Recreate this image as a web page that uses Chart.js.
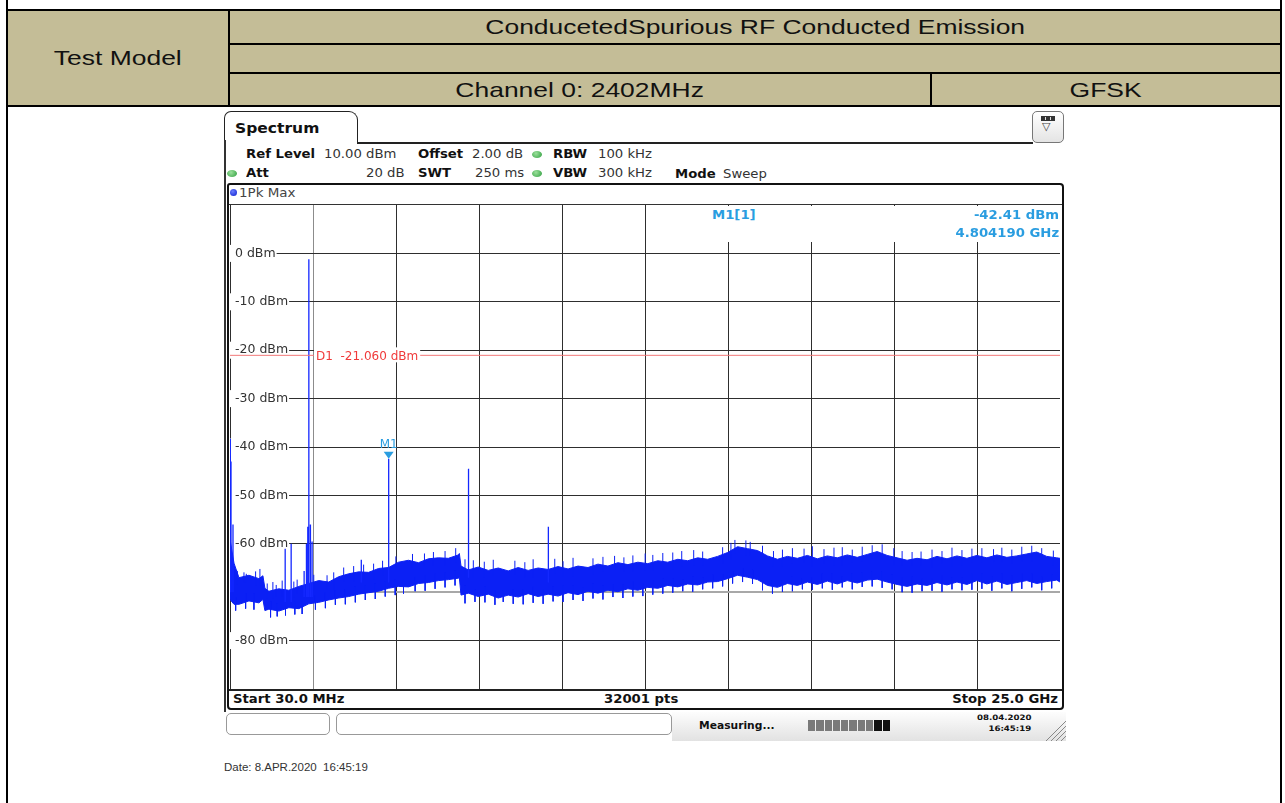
<!DOCTYPE html>
<html><head><meta charset="utf-8">
<script src="https://cdn.jsdelivr.net/npm/chart.js@4.4.1/dist/chart.umd.min.js"></script>
<style>
html,body{margin:0;padding:0;background:#fff;}
body{width:1285px;height:803px;position:relative;overflow:hidden;font-family:"DejaVu Sans",sans-serif;}
.ln{position:absolute;background:#000;}
.cell{position:absolute;background:#c4bd97;display:flex;align-items:center;justify-content:center;}
.ct{font-family:"Liberation Sans",Arial,sans-serif;font-size:21px;color:#111;display:inline-block;transform:scaleX(1.26);white-space:nowrap;}
.ra{position:absolute;font-family:"DejaVu Sans",sans-serif;font-size:11.5px;color:#333;white-space:nowrap;transform:scaleX(1.15);transform-origin:0 50%;line-height:14px;}
.rr{transform-origin:100% 50%;}
.b{font-weight:bold;color:#111;}
.blue{color:#2a9de0;font-weight:bold;}
.dot{position:absolute;width:10px;height:7px;border-radius:50%;background:radial-gradient(circle at 40% 35%,#9be09b,#2e9e3e);}
</style></head>
<body>
<!-- table -->
<div class="cell" style="left:8px;top:11px;width:220px;height:94px;"><span class="ct">Test Model</span></div>
<div class="cell" style="left:230px;top:11px;width:1050px;height:32px;"><span class="ct">ConducetedSpurious RF Conducted Emission</span></div>
<div class="cell" style="left:230px;top:45px;width:1050px;height:27px;"></div>
<div class="cell" style="left:230px;top:74px;width:700px;height:31px;"><span class="ct">Channel 0: 2402MHz</span></div>
<div class="cell" style="left:932px;top:74px;width:348px;height:31px;"><span class="ct">GFSK</span></div>
<div class="ln" style="left:6px;top:9px;width:1276px;height:2px;"></div>
<div class="ln" style="left:228px;top:43px;width:1054px;height:2px;"></div>
<div class="ln" style="left:228px;top:72px;width:1054px;height:2px;"></div>
<div class="ln" style="left:6px;top:105px;width:1276px;height:2px;"></div>
<div class="ln" style="left:6px;top:0px;width:2px;height:803px;"></div>
<div class="ln" style="left:1280px;top:0px;width:2px;height:803px;"></div>
<div class="ln" style="left:228px;top:9px;width:2px;height:98px;"></div>
<div class="ln" style="left:930px;top:72px;width:2px;height:35px;"></div>

<!-- spectrum tab -->
<div style="position:absolute;left:224px;top:111px;width:132px;height:32px;border:1.5px solid #222;border-bottom:none;border-radius:7px 9px 0 0;background:#fff;"></div>
<div class="ra b" style="left:235px;top:120px;font-size:13.5px;line-height:16px;">Spectrum</div>
<div class="ln" style="left:357px;top:142px;width:676px;height:1.5px;background:#222;"></div>
<div class="ln" style="left:224px;top:140px;width:1.5px;height:572px;background:#333;"></div>
<div style="position:absolute;left:1032px;top:111px;width:30px;height:30px;border:1.2px solid #777;border-radius:5px;background:linear-gradient(#fff,#e4e4e4);"></div>
<div style="position:absolute;left:1041px;top:116px;width:14px;height:5px;background:#333;"></div>
<div style="position:absolute;left:1045px;top:117px;width:1px;height:3px;background:#ddd;"></div>
<div style="position:absolute;left:1050px;top:117px;width:1px;height:3px;background:#ddd;"></div>
<div style="position:absolute;left:1042px;top:121px;font-size:11px;color:#444;line-height:12px;">▽</div>

<!-- params -->
<div class="ra b" style="left:246px;top:147px;">Ref Level</div>
<div class="ra" style="left:324px;top:147px;">10.00 dBm</div>
<div class="ra b" style="left:418px;top:147px;">Offset</div>
<div class="ra" style="left:472px;top:147px;">2.00 dB</div>
<div class="dot" style="left:532px;top:151px;"></div>
<div class="ra b" style="left:553px;top:147px;">RBW</div>
<div class="ra" style="left:598px;top:147px;">100 kHz</div>
<div class="dot" style="left:227px;top:170px;"></div>
<div class="ra b" style="left:246px;top:166px;">Att</div>
<div class="ra" style="left:366px;top:166px;">20 dB</div>
<div class="ra b" style="left:418px;top:166px;">SWT</div>
<div class="ra" style="left:475px;top:166px;">250 ms</div>
<div class="dot" style="left:532px;top:170px;"></div>
<div class="ra b" style="left:553px;top:166px;">VBW</div>
<div class="ra" style="left:598px;top:166px;">300 kHz</div>
<div class="ra b" style="left:675px;top:167px;">Mode</div>
<div class="ra" style="left:723px;top:167px;">Sweep</div>

<!-- graph frame -->
<div style="position:absolute;left:227px;top:183px;width:837px;height:527px;border:2px solid #111;border-radius:3px 4px 4px 4px;box-sizing:border-box;background:#fff;"></div>
<div style="position:absolute;left:230px;top:189px;width:7px;height:7px;border-radius:50%;background:radial-gradient(circle at 40% 35%,#6a7dff,#0a1ccc);"></div>
<div class="ra" style="left:239px;top:186px;font-size:12px;color:#444;transform:scaleX(1.12);">1Pk Max</div>
<div class="ln" style="left:229px;top:203.5px;width:833px;height:1.5px;background:#333;"></div>

<div style="position:absolute;left:230px;top:205px;width:830px;height:484px;z-index:1;">
<canvas id="c" width="830" height="484"></canvas>
</div>

<div style="position:absolute;left:648px;top:206px;width:412px;height:36px;background:#fff;z-index:2;">
  <div class="ra blue" style="left:64px;top:2px;">M1[1]</div>
  <div class="ra blue rr" style="right:1px;top:2px;">-42.41 dBm</div>
  <div class="ra blue rr" style="right:1px;top:20px;">4.804190 GHz</div>
</div>

<div class="ln" style="left:229px;top:688.5px;width:833px;height:2px;background:#222;"></div>
<div class="ra b" style="left:233px;top:692px;">Start 30.0 MHz</div>
<div class="ra b" style="left:604px;top:692px;">32001 pts</div>
<div class="ra b rr" style="right:227px;top:692px;">Stop 25.0 GHz</div>

<!-- status bar -->
<div style="position:absolute;left:672px;top:712px;width:394px;height:29px;background:linear-gradient(to bottom,#fdfdfd,#e2e2e2);"></div>
<div style="position:absolute;left:226px;top:713px;width:104px;height:22px;border:1px solid #999;border-radius:5px;box-sizing:border-box;background:#fff;"></div>
<div style="position:absolute;left:336px;top:713px;width:336px;height:22px;border:1px solid #999;border-radius:5px;box-sizing:border-box;background:#fff;"></div>
<div class="ra b" style="left:699px;top:718px;font-size:10.5px;transform:scaleX(1.02);">Measuring...</div>
<div style="position:absolute;left:808px;top:720px;width:82px;height:11px;display:flex;gap:1px;">
  <div style="flex:1;background:#7a7a7a"></div><div style="flex:1;background:#7a7a7a"></div><div style="flex:1;background:#7a7a7a"></div><div style="flex:1;background:#7a7a7a"></div><div style="flex:1;background:#7a7a7a"></div><div style="flex:1;background:#7a7a7a"></div><div style="flex:1;background:#7a7a7a"></div><div style="flex:1;background:#7a7a7a"></div><div style="flex:1;background:#111"></div><div style="flex:1;background:#111"></div>
</div>
<div class="ra b rr" style="right:254px;top:713px;font-size:7.5px;line-height:10px;">08.04.2020</div>
<div class="ra b rr" style="right:254px;top:724px;font-size:7.5px;line-height:10px;">16:45:19</div>
<svg style="position:absolute;left:1044px;top:720px;" width="24" height="22">
  <g stroke="#888" stroke-width="1"><line x1="2" y1="21" x2="22" y2="1"/><line x1="7" y1="21" x2="22" y2="6"/><line x1="12" y1="21" x2="22" y2="11"/><line x1="17" y1="21" x2="22" y2="16"/></g>
</svg>

<div style="position:absolute;left:224px;top:760px;font-family:'Liberation Sans',Arial,sans-serif;font-size:11.5px;color:#333;white-space:pre;line-height:14px;">Date: 8.APR.2020  16:45:19</div>

<script>
// ---- data ----
const X_MIN_GHZ = 0.03;
const X_MAX_GHZ = 25.0;
const Y_MIN_DBM = -90;
const Y_MAX_DBM = 10;
const X_GRID_GHZ = [0.03, 2.527, 5.024, 7.521, 10.018, 12.515, 15.012, 17.509, 20.006, 22.503, 25.0];
const Y_TICKS_DBM = [0, -10, -20, -30, -40, -50, -60, -70, -80];
// the -70 dBm label is hidden by the trace in the reference
const Y_TICK_LABELS = ['0 dBm', '-10 dBm', '-20 dBm', '-30 dBm', '-40 dBm', '-50 dBm', '-60 dBm', '', '-80 dBm'];

// noise floor envelope of the 1Pk Max trace
const FREQ_GHZ = [0.03,0.15,0.3,0.6,0.9,1.02,1.08,1.2,1.5,1.8,2.1,2.4,2.7,3.0,3.3,3.6,3.9,4.2,4.5,4.8,5.1,5.4,5.7,6.0,6.3,6.6,6.9,6.93,6.98,7.2,7.5,7.8,8.1,8.4,8.7,9.0,9.3,9.6,9.9,10.2,10.5,10.8,11.1,11.4,11.7,12.0,12.3,12.6,12.9,13.2,13.5,13.8,14.1,14.4,14.7,15.0,15.3,15.6,15.9,16.2,16.5,16.8,17.1,17.4,17.7,18.0,18.3,18.6,18.9,19.2,19.5,19.8,20.1,20.4,20.7,21.0,21.3,21.6,21.9,22.2,22.5,22.8,23.1,23.4,23.7,24.0,24.3,24.6,24.9,25.0];
const NOISE_TOP_DBM = [-59,-64,-67,-66.5,-67.2,-66.6,-69.2,-69.8,-69.3,-69.6,-68.8,-68.2,-67.6,-67.9,-66.8,-66.2,-65.8,-65.9,-65.1,-64.9,-63.8,-63.4,-63.9,-63.1,-62.9,-63.0,-62.3,-62.0,-64.6,-65.4,-64.8,-65.5,-65.0,-65.6,-64.9,-65.5,-65.0,-65.3,-64.7,-65.2,-64.6,-64.9,-64.2,-64.6,-63.9,-64.3,-63.8,-64.1,-63.5,-63.8,-63.2,-63.5,-62.9,-63.2,-62.6,-61.8,-60.6,-61.0,-61.4,-62.5,-63.2,-62.6,-63.0,-62.4,-63.1,-62.5,-62.9,-62.3,-62.8,-62.2,-61.6,-62.4,-62.9,-63.4,-63.0,-63.3,-62.6,-63.1,-62.5,-63.0,-62.4,-62.9,-62.3,-62.8,-62.5,-62.1,-61.7,-62.6,-62.9,-63.0];
const NOISE_BOTTOM_DBM = [-71.5,-72.5,-72.5,-71.8,-72.2,-71.5,-73.8,-73.5,-73.9,-73.2,-73.4,-72.4,-72.1,-71.6,-71.2,-70.9,-70.4,-70.1,-69.8,-69.2,-68.8,-68.9,-68.2,-68.0,-67.6,-67.4,-67.1,-67.0,-70.6,-70.2,-70.9,-70.4,-71.2,-70.6,-71.0,-70.3,-70.9,-70.4,-70.8,-70.1,-70.5,-69.8,-70.2,-69.6,-69.9,-69.3,-69.6,-69.0,-69.2,-68.6,-68.9,-68.3,-68.5,-67.9,-67.8,-67.2,-66.5,-66.9,-67.4,-68.6,-69.0,-68.2,-68.6,-67.9,-68.4,-67.7,-68.3,-67.6,-68.1,-67.5,-67.3,-67.9,-68.4,-68.8,-68.3,-68.6,-68.0,-68.5,-67.9,-68.4,-67.6,-68.3,-67.7,-68.4,-68.0,-67.6,-68.2,-67.8,-67.5,-67.9];

// short noise peaks sticking out of the top / bottom of the noise band
const GRASS_UP_GHZ = [0.25,0.45,0.52,0.8,0.93,1.15,1.32,1.42,1.6,1.95,2.05,2.55,2.95,3.15,3.45,3.75,4.05,4.35,4.62,5.02,5.52,5.88,6.15,6.5,6.82,7.1,7.35,7.68,7.95,8.6,8.9,9.15,9.8,10.05,10.35,10.95,11.25,11.6,11.88,12.15,12.52,12.75,13.05,13.35,13.62,13.98,14.25,14.85,15.1,15.22,15.55,15.68,16.05,16.38,16.65,16.95,17.3,17.55,17.9,18.2,18.45,18.75,19.05,19.35,19.65,20.0,20.25,20.55,20.82,21.15,21.45,21.75,22.05,22.35,22.65,23.0,23.25,23.55,23.85,24.15,24.45,24.8];
const GRASS_UP_DBM = [-65.6,-65.9,-66.2,-65.7,-65.2,-68.2,-67.9,-68.5,-67.6,-67.8,-67.4,-66.4,-66.5,-65.9,-64.9,-64.6,-64.3,-64.1,-63.5,-62.6,-62.1,-62.0,-61.7,-61.5,-60.9,-63.2,-63.4,-63.7,-63.3,-63.5,-63.8,-63.2,-63.1,-63.6,-62.9,-63.0,-62.7,-62.5,-62.8,-62.4,-62.0,-62.3,-61.9,-61.8,-61.5,-61.3,-61.6,-60.7,-59.8,-59.2,-59.3,-59.6,-60.4,-61.5,-61.2,-60.9,-61.0,-60.5,-61.1,-60.8,-60.7,-61.2,-60.6,-60.3,-60.1,-60.9,-61.5,-61.7,-61.6,-61.2,-61.5,-60.8,-61.3,-61.0,-60.9,-61.1,-60.8,-61.2,-60.6,-60.4,-60.9,-61.4];
const GRASS_DOWN_GHZ = [0.2,0.5,0.75,1.25,1.45,1.7,1.98,2.2,2.6,2.9,3.2,3.5,3.8,4.1,4.4,4.7,5.0,5.25,5.6,5.9,6.2,6.5,6.8,7.1,7.4,7.7,8.0,8.25,8.55,8.85,9.15,9.45,9.75,10.05,10.35,10.65,10.95,11.25,11.55,11.85,12.15,12.45,12.75,13.05,13.35,13.65,13.95,14.25,14.55,14.85,15.15,15.45,15.75,16.05,16.35,16.65,16.95,17.25,17.55,17.85,18.15,18.45,18.75,19.05,19.35,19.65,19.95,20.25,20.55,20.85,21.15,21.45,21.75,22.05,22.35,22.65,22.95,23.25,23.55,23.85,24.15,24.45,24.75];
const GRASS_DOWN_DBM = [-73.8,-73.4,-73.6,-75.2,-75.0,-74.8,-74.6,-74.5,-73.6,-73.3,-72.6,-72.5,-72.1,-71.6,-71.4,-70.9,-70.6,-70.3,-69.8,-69.7,-69.3,-69.0,-68.6,-72.3,-72.0,-72.1,-72.6,-72.0,-72.4,-72.5,-72.2,-72.4,-71.9,-72.0,-71.6,-71.8,-71.3,-71.5,-71.0,-71.2,-70.9,-70.8,-70.5,-70.3,-70.1,-69.8,-69.9,-69.4,-69.2,-68.8,-68.2,-67.9,-68.3,-69.6,-70.3,-69.9,-69.8,-69.4,-69.5,-69.2,-69.5,-69.0,-69.4,-68.9,-68.8,-69.1,-69.4,-70.0,-70.1,-69.8,-69.7,-69.9,-69.4,-69.6,-69.5,-69.3,-69.7,-69.2,-69.8,-69.3,-69.0,-69.6,-69.2];

// discrete emissions (carrier, harmonics, spurs)
const SPIKE_GHZ      = [0.04,0.06,0.12,1.69,1.87,2.26,2.33,2.37,2.402,2.45,2.50,3.98,4.804,7.206,9.608];
const SPIKE_BASE_DBM = [-70,-70,-70,-72,-72,-71,-71,-71,-71,-71,-71,-68,-68,-67,-68];
const SPIKE_PEAK_DBM = [-38.3,-43,-56,-61,-60,-65.6,-60,-56.5,-1.2,-56,-59.5,-63.3,-42.41,-44.5,-56.5];

const D1_DBM = -21.06;
const D1_LABEL = 'D1  -21.060 dBm';
const M1_GHZ = 4.80419;
const M1_DBM = -42.41;
const M1_LABEL = 'M1';

// ---- build datasets ----
const TRACE_BLUE = '#0b20f5';
const topData = FREQ_GHZ.map((f, i) => ({x: f, y: NOISE_TOP_DBM[i]}));
const botData = FREQ_GHZ.map((f, i) => ({x: f, y: NOISE_BOTTOM_DBM[i]}));
function nearestIdx(f) {
  let best = 0;
  FREQ_GHZ.forEach((g, i) => { if (Math.abs(g - f) < Math.abs(FREQ_GHZ[best] - f)) best = i; });
  return best;
}
const spikeData = [];
SPIKE_GHZ.forEach((f, i) => {
  spikeData.push({x: f, y: SPIKE_BASE_DBM[i]}, {x: f, y: SPIKE_PEAK_DBM[i]}, {x: f, y: null});
});
const grassData = [];
GRASS_UP_GHZ.forEach((f, i) => {
  grassData.push({x: f, y: NOISE_TOP_DBM[nearestIdx(f)] - 1.5}, {x: f, y: GRASS_UP_DBM[i]}, {x: f, y: null});
});
GRASS_DOWN_GHZ.forEach((f, i) => {
  grassData.push({x: f, y: NOISE_BOTTOM_DBM[nearestIdx(f)] + 1.5}, {x: f, y: GRASS_DOWN_DBM[i]}, {x: f, y: null});
});
const d1Data = [{x: X_MIN_GHZ, y: D1_DBM}, {x: X_MAX_GHZ, y: D1_DBM}];

const overlay = {
  id: 'overlay',
  afterDatasetsDraw(chart) {
    const {ctx, scales: {x, y}} = chart;
    ctx.save();
    const yd = y.getPixelForValue(D1_DBM);
    const x0 = x.getPixelForValue(X_GRID_GHZ[1]) + 1;
    ctx.font = '12px "DejaVu Sans"';
    const w = ctx.measureText(D1_LABEL).width;
    ctx.fillStyle = '#fff';
    ctx.fillRect(x0, yd - 8, w + 4, 15);
    ctx.fillStyle = '#f03a3a';
    ctx.textBaseline = 'middle';
    ctx.textAlign = 'left';
    ctx.fillText(D1_LABEL, x0 + 2, yd + 2);
    const mx = x.getPixelForValue(M1_GHZ), my = y.getPixelForValue(M1_DBM);
    ctx.fillStyle = '#2a9de0';
    ctx.beginPath();
    ctx.moveTo(mx - 5, my - 7); ctx.lineTo(mx + 5, my - 7); ctx.lineTo(mx, my); ctx.closePath();
    ctx.fill();
    ctx.textAlign = 'center';
    ctx.textBaseline = 'alphabetic';
    ctx.fillText(M1_LABEL, mx, my - 11);
    ctx.restore();
  }
};

new Chart(document.getElementById('c'), {
  type: 'line',
  data: {
    datasets: [
      {data: d1Data, borderColor: '#f27878', borderWidth: 1, pointRadius: 0, fill: false},
      {data: spikeData, borderColor: '#1428ff', borderWidth: 1.3, pointRadius: 0, fill: false, spanGaps: false},
      {data: grassData, borderColor: TRACE_BLUE, borderWidth: 1, pointRadius: 0, fill: false, spanGaps: false},
      {data: topData, borderColor: TRACE_BLUE, borderWidth: 1, pointRadius: 0, fill: false},
      {data: botData, borderColor: TRACE_BLUE, borderWidth: 1, pointRadius: 0, fill: '-1', backgroundColor: TRACE_BLUE}
    ]
  },
  options: {
    responsive: false,
    animation: false,
    events: [],
    layout: {padding: 0},
    plugins: {legend: {display: false}, tooltip: {enabled: false}},
    elements: {line: {tension: 0}},
    scales: {
      x: {
        type: 'linear', min: X_MIN_GHZ, max: X_MAX_GHZ,
        afterBuildTicks: s => { s.ticks = X_GRID_GHZ.map(v => ({value: v})); },
        afterFit: s => { s.height = 0; s.paddingLeft = 0; s.paddingRight = 0; },
        ticks: {display: false},
        border: {display: false},
        grid: {drawTicks: false, lineWidth: 1, color: c => c.index === 1 ? '#8c8c8c' : '#2e2e2e'}
      },
      y: {
        type: 'linear', min: Y_MIN_DBM, max: Y_MAX_DBM,
        afterBuildTicks: s => { s.ticks = Y_TICKS_DBM.map(v => ({value: v})); },
        afterFit: s => { s.width = 0; s.paddingTop = 0; s.paddingBottom = 0; },
        border: {display: false},
        grid: {drawTicks: false,
          lineWidth: c => (c.tick && c.tick.value === -70) ? 2 : 1,
          color: c => (c.tick && c.tick.value === -70) ? '#a8a8a8' : '#2e2e2e'},
        ticks: {
          mirror: true, padding: 5,
          showLabelBackdrop: true,
          backdropColor: c => (c.tick && c.tick.value === -70) ? 'rgba(0,0,0,0)' : '#fff',
          backdropPadding: {top: 1, bottom: 1, left: 5, right: 1},
          color: '#333',
          font: {family: 'DejaVu Sans', size: 12.5},
          callback: v => { const i = Y_TICKS_DBM.indexOf(v); return i >= 0 ? Y_TICK_LABELS[i] : null; }
        }
      }
    }
  },
  plugins: [overlay]
});
</script>
</body></html>
